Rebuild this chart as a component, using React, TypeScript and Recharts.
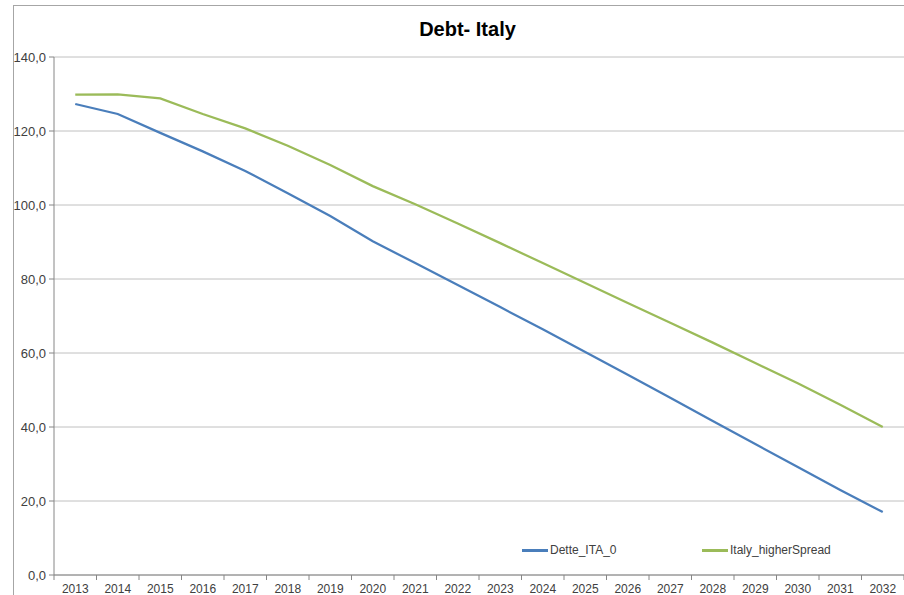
import { LineChart, Line, XAxis, YAxis, CartesianGrid, Legend } from 'recharts';

const years = [
  '2013', '2014', '2015', '2016', '2017', '2018', '2019', '2020', '2021', '2022',
  '2023', '2024', '2025', '2026', '2027', '2028', '2029', '2030', '2031', '2032',
];

const detteIta0 = [
  127.3, 124.6, 119.5, 114.5, 109.2, 103.2, 97.0, 90.2, 84.3, 78.4,
  72.4, 66.4, 60.3, 54.1, 47.9, 41.6, 35.4, 29.2, 23.0, 17.0,
];

const italyHigherSpread = [
  129.8, 129.9, 128.8, 124.6, 120.7, 116.0, 110.8, 105.1, 100.2, 95.0,
  89.7, 84.3, 78.9, 73.5, 68.2, 62.8, 57.3, 51.8, 46.0, 40.0,
];

const yTicks = [0, 20, 40, 60, 80, 100, 120, 140];

const chartData = years.map((year, i) => ({
  year,
  Dette_ITA_0: detteIta0[i],
  Italy_higherSpread: italyHigherSpread[i],
}));

const FONT = '"Liberation Sans", Arial, sans-serif';
const HALF_STEP = 850 / years.length / 2;

// Excel puts the tick marks between categories
function YearTick(props: any) {
  const { x, y, payload, index } = props;
  const last = index === years.length - 1;
  return (
    <g>
      <line x1={x - HALF_STEP} x2={x - HALF_STEP} y1={y} y2={y + 5} stroke="#868686" />
      {last && <line x1={x + HALF_STEP} x2={x + HALF_STEP} y1={y} y2={y + 5} stroke="#868686" />}
      <text x={x} y={y + 18} textAnchor="middle" fontSize={12} fill="#404040" fontFamily={FONT}>
        {payload.value}
      </text>
    </g>
  );
}

function LegendContent(props: any) {
  const items = props.payload || [];
  return (
    <div style={{ display: 'flex', fontFamily: FONT, fontSize: 12, color: '#404040' }}>
      {items.map((item: any) => (
        <div key={item.value} style={{ display: 'flex', alignItems: 'center', width: 180 }}>
          <span style={{ display: 'inline-block', width: 26, height: 3, background: item.color, marginRight: 2 }} />
          <span>{item.value}</span>
        </div>
      ))}
    </div>
  );
}

export default function App() {
  return (
    <div style={{ position: 'absolute', left: 0, top: 0, width: 904, height: 595, background: '#fff', overflow: 'hidden' }}>
      <div
        style={{
          position: 'absolute',
          left: 13,
          top: 5,
          width: 900,
          height: 600,
          borderLeft: '1px solid #a6a6a6',
          borderTop: '1px solid #a6a6a6',
        }}
      />
      <div
        style={{
          position: 'absolute',
          left: 13,
          right: 0,
          top: 18,
          textAlign: 'center',
          fontFamily: FONT,
          fontWeight: 'bold',
          fontSize: 20,
          color: '#000',
          paddingLeft: 18,
        }}
      >
        Debt- Italy
      </div>
      <LineChart
        width={904}
        height={595}
        data={chartData}
        margin={{ top: 57, right: 0, bottom: 0, left: 8 }}
        style={{ position: 'absolute', left: 0, top: 0 }}
      >
        <CartesianGrid vertical={false} stroke="#c0c0c0" />
        <XAxis
          dataKey="year"
          interval={0}
          height={20}
          tickSize={0}
          tickMargin={0}
          tickLine={false}
          axisLine={{ stroke: '#868686' }}
          padding={{ left: HALF_STEP, right: HALF_STEP }}
          tick={<YearTick />}
        />
        <YAxis
          width={46}
          domain={[0, 140]}
          ticks={yTicks}
          interval={0}
          tickFormatter={(v: number) => v.toFixed(1).replace('.', ',')}
          tick={{ fontSize: 13, fill: '#404040', fontFamily: FONT }}
          tickLine={{ stroke: '#868686' }}
          axisLine={{ stroke: '#868686' }}
          tickSize={5}
          tickMargin={3}
        />
        <Legend
          layout="horizontal"
          verticalAlign="middle"
          align="center"
          content={<LegendContent />}
          wrapperStyle={{ position: 'absolute', left: 522, top: 543, width: 360 }}
        />
        <Line
          type="linear"
          dataKey="Dette_ITA_0"
          stroke="#4a7ebb"
          strokeWidth={2.25}
          dot={false}
          isAnimationActive={false}
        />
        <Line
          type="linear"
          dataKey="Italy_higherSpread"
          stroke="#9bbb59"
          strokeWidth={2.25}
          dot={false}
          isAnimationActive={false}
        />
      </LineChart>
    </div>
  );
}
